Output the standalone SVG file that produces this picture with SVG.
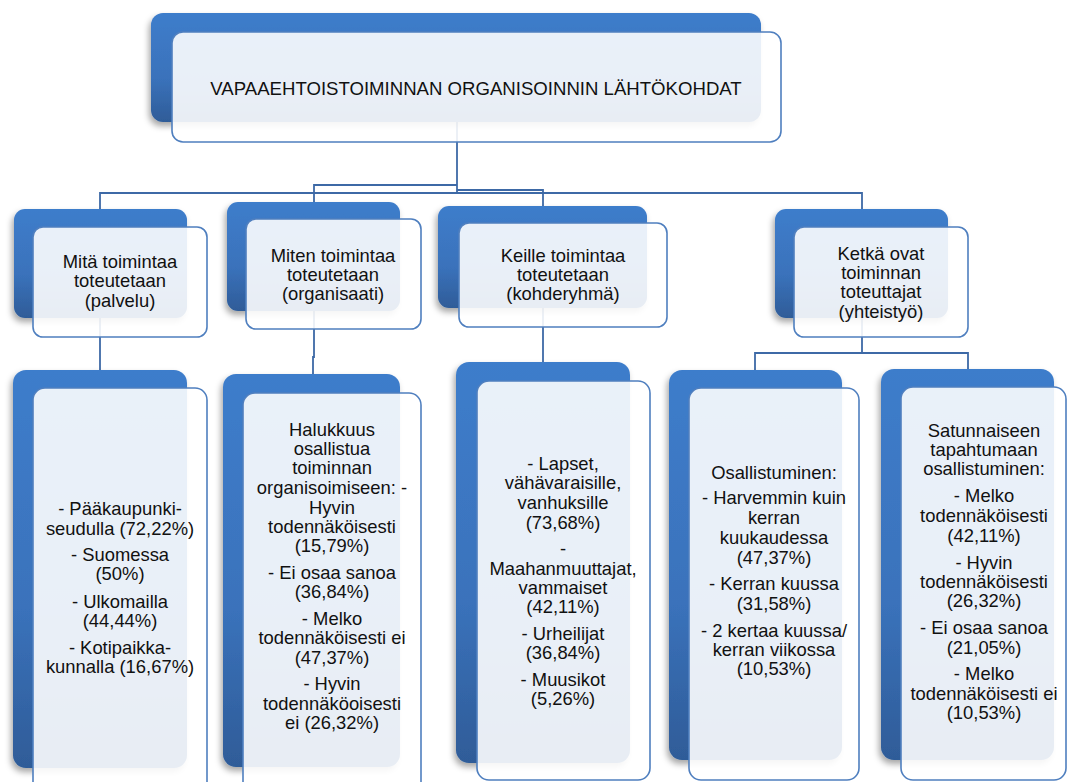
<svg xmlns="http://www.w3.org/2000/svg" width="1067" height="782" viewBox="0 0 1067 782">
<defs>
<linearGradient id="blueGrad" x1="0" y1="0" x2="0" y2="1">
<stop offset="0" stop-color="#3e7dcb"/>
<stop offset="0.6" stop-color="#3a72bb"/>
<stop offset="1" stop-color="#2f5c98"/>
</linearGradient>
<filter id="shadow" x="-10%" y="-10%" width="120%" height="125%">
<feDropShadow dx="-2" dy="4" stdDeviation="3" flood-color="#000" flood-opacity="0.35"/>
</filter>
</defs>
<style>
.back{fill:url(#blueGrad);filter:url(#shadow);}
.front{fill:#ffffff;fill-opacity:0.89;stroke:#4f7fbf;stroke-width:1.6;}
.conn{fill:none;stroke:#3d69a6;stroke-width:1.8;}
text{font-family:"Liberation Sans",Arial,sans-serif;font-size:18.4px;fill:#111;text-anchor:middle;}
</style>
<rect width="1067" height="782" fill="#ffffff"/>
<g id="connectors">
<path class="conn" d="M457 122 V192"/>
<path class="conn" d="M457 185 H314 V202"/>
<path class="conn" d="M100 209 V193 H862 V209"/>
<path class="conn" d="M457 190 H543 V206"/>
<path class="conn" d="M100 318 V370"/>
<path class="conn" d="M314 311 V357 H313 V374"/>
<path class="conn" d="M543 308 V362"/>
<path class="conn" d="M862 318 V353"/>
<path class="conn" d="M755 370 V353 H968 V369"/>
</g>
<g id="root">
<rect class="back" x="151" y="13" width="610" height="109" rx="12"/>
<rect class="front" x="172" y="32" width="609" height="110" rx="11"/>
<text x="476" y="94.5" style="font-size:18.6px">VAPAAEHTOISTOIMINNAN ORGANISOINNIN LÄHTÖKOHDAT</text>
</g>
<g id="mita">
<rect class="back" x="14" y="209" width="173" height="109" rx="11"/>
<rect class="front" x="33" y="227" width="174" height="110" rx="10"/>
<text x="120" y="268">Mitä toimintaa</text>
<text x="120" y="287">toteutetaan</text>
<text x="120" y="306.5">(palvelu)</text>
</g>
<g id="miten">
<rect class="back" x="227" y="202" width="173" height="109" rx="11"/>
<rect class="front" x="246" y="219" width="175" height="110" rx="10"/>
<text x="333" y="261.5">Miten toimintaa</text>
<text x="333" y="280.5">toteutetaan</text>
<text x="333" y="299.5">(organisaati)</text>
</g>
<g id="keille">
<rect class="back" x="438" y="206" width="209" height="102" rx="11"/>
<rect class="front" x="459" y="223" width="208" height="104" rx="10"/>
<text x="563" y="261.5">Keille toimintaa</text>
<text x="563" y="281">toteutetaan</text>
<text x="563" y="300">(kohderyhmä)</text>
</g>
<g id="ketka">
<rect class="back" x="775" y="209" width="173" height="109" rx="11"/>
<rect class="front" x="794" y="227" width="174" height="110" rx="10"/>
<text x="881" y="259.5">Ketkä ovat</text>
<text x="881" y="278.5">toiminnan</text>
<text x="881" y="298">toteuttajat</text>
<text x="881" y="317.5">(yhteistyö)</text>
</g>
<g id="palvelu-tulos">
<rect class="back" x="13" y="370" width="174" height="398" rx="13"/>
<rect class="front" x="33" y="388" width="174" height="412" rx="12"/>
<text x="120" y="514.5">- Pääkaupunki-</text>
<text x="120" y="534.5">seudulla (72,22%)</text>
<text x="120" y="560.5">- Suomessa</text>
<text x="120" y="579.5">(50%)</text>
<text x="120" y="607.5">- Ulkomailla</text>
<text x="120" y="626.5">(44,44%)</text>
<text x="120" y="653.5">- Kotipaikka-</text>
<text x="120" y="672.5">kunnalla (16,67%)</text>
</g>
<g id="organisaatio-tulos">
<rect class="back" x="223" y="374" width="177" height="393" rx="13"/>
<rect class="front" x="243" y="393" width="178" height="407" rx="12"/>
<text x="332" y="435.5">Halukkuus</text>
<text x="332" y="454.5">osallistua</text>
<text x="332" y="473.5">toiminnan</text>
<text x="332" y="493.5">organisoimiseen: -</text>
<text x="332" y="513.5">Hyvin</text>
<text x="332" y="532.5">todennäköisesti</text>
<text x="332" y="551.5">(15,79%)</text>
<text x="332" y="578.5">- Ei osaa sanoa</text>
<text x="332" y="597.5">(36,84%)</text>
<text x="332" y="624.5">- Melko</text>
<text x="332" y="643.5">todennäköisesti ei</text>
<text x="332" y="663.5">(47,37%)</text>
<text x="332" y="689.5">- Hyvin</text>
<text x="332" y="709.5">todennäköoisesti</text>
<text x="332" y="728.5">ei (26,32%)</text>
</g>
<g id="kohderyhma-tulos">
<rect class="back" x="456" y="362" width="174" height="401" rx="13"/>
<rect class="front" x="477" y="381" width="173" height="399" rx="12"/>
<text x="563" y="469.5">- Lapset,</text>
<text x="563" y="488.5">vähävaraisille,</text>
<text x="563" y="508.5">vanhuksille</text>
<text x="563" y="528.5">(73,68%)</text>
<text x="563" y="554.5">-</text>
<text x="563" y="574.5">Maahanmuuttajat,</text>
<text x="563" y="593.5">vammaiset</text>
<text x="563" y="612.5">(42,11%)</text>
<text x="563" y="639.5">- Urheilijat</text>
<text x="563" y="658.5">(36,84%)</text>
<text x="563" y="685.5">- Muusikot</text>
<text x="563" y="704.5">(5,26%)</text>
</g>
<g id="osallistuminen">
<rect class="back" x="669" y="370" width="173" height="390" rx="13"/>
<rect class="front" x="689" y="388" width="170" height="392" rx="12"/>
<text x="774" y="478.5">Osallistuminen:</text>
<text x="774" y="503.5">- Harvemmin kuin</text>
<text x="774" y="523.5">kerran</text>
<text x="774" y="543.5">kuukaudessa</text>
<text x="774" y="563.5">(47,37%)</text>
<text x="774" y="589.5">- Kerran kuussa</text>
<text x="774" y="609.5">(31,58%)</text>
<text x="774" y="636.5">- 2 kertaa kuussa/</text>
<text x="774" y="655.5">kerran viikossa</text>
<text x="774" y="674.5">(10,53%)</text>
</g>
<g id="satunnainen">
<rect class="back" x="881" y="369" width="173" height="391" rx="13"/>
<rect class="front" x="901" y="387" width="165" height="393" rx="12"/>
<text x="984" y="436.5">Satunnaiseen</text>
<text x="984" y="455.5">tapahtumaan</text>
<text x="984" y="474.5">osallistuminen:</text>
<text x="984" y="501.5">- Melko</text>
<text x="984" y="521.5">todennäköisesti</text>
<text x="984" y="541.5">(42,11%)</text>
<text x="984" y="568.5">- Hyvin</text>
<text x="984" y="587.5">todennäköisesti</text>
<text x="984" y="606.5">(26,32%)</text>
<text x="984" y="633.5">- Ei osaa sanoa</text>
<text x="984" y="653.5">(21,05%)</text>
<text x="984" y="679.5">- Melko</text>
<text x="984" y="699.5">todennäköisesti ei</text>
<text x="984" y="718.5">(10,53%)</text>
</g>
</svg>
